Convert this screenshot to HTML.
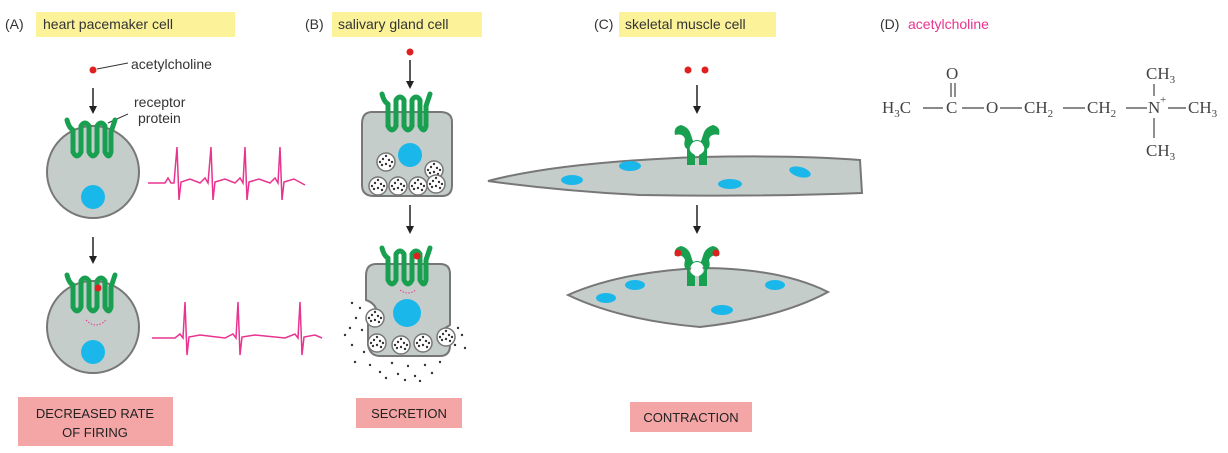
<!DOCTYPE html>
<html><head><meta charset="utf-8"><style>
body{margin:0;background:#fff;}
svg{display:block;font-family:"Liberation Sans",sans-serif;}
</style></head><body>
<svg width="1228" height="453" viewBox="0 0 1228 453" xmlns="http://www.w3.org/2000/svg">
<defs>
<marker id="ar" markerWidth="8" markerHeight="8" refX="4" refY="4" orient="auto" markerUnits="userSpaceOnUse"><path d="M0,0 L8,4 L0,8 z" fill="#222"/></marker>
<g id="rec"><path d="M-22,-30 Q-20,-22 -16,-20 L-16,2 Q-12,10 -8,2 L-8,-24 Q-4,-30 0,-24 L0,2 Q4,10 8,2 L8,-24 Q12,-30 16,-24 L16,2 Q20,10 22,2 L22,-18 Q24,-24 26,-30" fill="none" stroke="#18a050" stroke-width="5" stroke-linecap="round" stroke-linejoin="round"/></g>
<g id="ves"><circle r="9" fill="#fff" stroke="#777" stroke-width="1.5"/><circle cx="-3" cy="-3" r="1.2" fill="#333"/><circle cx="3" cy="-2" r="1.2" fill="#333"/><circle cx="0" cy="2" r="1.2" fill="#333"/><circle cx="-4" cy="3" r="1.2" fill="#333"/><circle cx="4" cy="4" r="1.2" fill="#333"/><circle cx="0" cy="-6" r="1.2" fill="#333"/><circle cx="-6" cy="0" r="1.2" fill="#333"/><circle cx="6" cy="0" r="1.2" fill="#333"/></g>
<g id="nic"><path d="M-16,-22 Q-24,-20 -22,-12 Q-14,-14 -12,-8 Q-14,0 -10,2 L-10,18 L-2,18 L-2,8 Q-10,4 -6,-2 Q-4,-6 0,-6 Q4,-6 6,-2 Q10,4 2,8 L2,18 L10,18 L10,2 Q14,0 12,-8 Q14,-14 22,-12 Q24,-20 16,-22 Q8,-20 6,-12 L4,-6 Q0,-8 -4,-6 L-6,-12 Q-8,-20 -16,-22z" fill="#18a050"/><circle cx="0" cy="2" r="6" fill="#fff"/></g>
</defs>

<!-- titles -->
<text x="5" y="29" font-size="14" fill="#333">(A)</text>
<rect x="36" y="12" width="199" height="25" fill="#fbf29a"/>
<text x="43" y="29" font-size="14" fill="#333">heart pacemaker cell</text>
<text x="305" y="29" font-size="14" fill="#333">(B)</text>
<rect x="332" y="12" width="150" height="25" fill="#fbf29a"/>
<text x="338" y="29" font-size="14" fill="#333">salivary gland cell</text>
<text x="594" y="29" font-size="14" fill="#333">(C)</text>
<rect x="619" y="12" width="157" height="25" fill="#fbf29a"/>
<text x="625" y="29" font-size="14" fill="#333">skeletal muscle cell</text>
<text x="880" y="29" font-size="14" fill="#333">(D)</text>
<text x="908" y="29" font-size="14" fill="#e8338f">acetylcholine</text>

<!-- A -->
<circle cx="93" cy="70" r="3.5" fill="#e02020"/>
<line x1="97" y1="69" x2="128" y2="63" stroke="#333" stroke-width="1"/>
<text x="131" y="69" font-size="14" fill="#333">acetylcholine</text>
<text x="134" y="107" font-size="14" fill="#333">receptor</text>
<text x="138" y="123" font-size="14" fill="#333">protein</text>
<line x1="108" y1="123" x2="128" y2="114" stroke="#333" stroke-width="1"/>
<line x1="93" y1="88" x2="93" y2="110" stroke="#222" stroke-width="1.5" marker-end="url(#ar)"/>
<circle cx="93" cy="172" r="46" fill="#c5cdcb" stroke="#777" stroke-width="2"/>
<circle cx="93" cy="197" r="12" fill="#1ab8ea"/>
<use href="#rec" x="89" y="150"/>
<polyline points="148,183 165,183 168,178 171,183 174,183 177,147 179,200 181,182 190,179 200,183 205,178 208,183 211,147 213,200 215,182 225,179 235,183 240,178 243,183 245,147 247,200 249,182 259,179 270,183 275,178 278,183 280,147 282,200 284,182 294,179 305,185" fill="none" stroke="#e8338f" stroke-width="1.5"/>
<line x1="93" y1="237" x2="93" y2="260" stroke="#222" stroke-width="1.5" marker-end="url(#ar)"/>
<circle cx="93" cy="327" r="46" fill="#c5cdcb" stroke="#777" stroke-width="2"/>
<circle cx="93" cy="352" r="12" fill="#1ab8ea"/>
<use href="#rec" x="89" y="305"/>
<circle cx="98" cy="288" r="3.5" fill="#e02020"/>
<path d="M86,320 Q96,330 106,320" fill="none" stroke="#e8338f" stroke-width="1" stroke-dasharray="1.5 1.5"/>
<polyline points="152,338 175,338 180,334 183,338 185,302 187,355 189,337 200,335 225,338 233,334 236,338 238,302 240,355 242,337 255,335 285,338 295,334 298,338 300,302 302,355 304,337 315,335 322,338" fill="none" stroke="#e8338f" stroke-width="1.5"/>
<rect x="18" y="397" width="155" height="49" fill="#f4a6a6"/>
<text x="95" y="418" font-size="13" fill="#222" text-anchor="middle">DECREASED RATE</text>
<text x="95" y="437" font-size="13" fill="#222" text-anchor="middle">OF FIRING</text>

<!-- B -->
<circle cx="410" cy="52" r="3.5" fill="#e02020"/>
<line x1="410" y1="60" x2="410" y2="85" stroke="#222" stroke-width="1.5" marker-end="url(#ar)"/>
<path d="M372,112 Q362,112 362,124 L362,185 Q362,196 374,196 L442,196 Q452,196 452,185 L452,122 Q452,112 440,112 Z" fill="#c5cdcb" stroke="#777" stroke-width="2"/>
<use href="#rec" x="404" y="124"/>
<circle cx="410" cy="155" r="12" fill="#1ab8ea"/>
<use href="#ves" x="386" y="162"/><use href="#ves" x="434" y="170"/><use href="#ves" x="378" y="186"/><use href="#ves" x="398" y="186"/><use href="#ves" x="418" y="186"/><use href="#ves" x="436" y="184"/>
<line x1="410" y1="205" x2="410" y2="230" stroke="#222" stroke-width="1.5" marker-end="url(#ar)"/>
<path d="M376,264 Q366,264 366,276 L366,300 Q380,305 376,320 L368,322 L368,345 Q370,356 380,356 L440,356 Q450,356 450,345 L450,340 L442,330 L450,325 L450,274 Q450,264 440,264 Z" fill="#c5cdcb" stroke="#777" stroke-width="2"/>
<use href="#rec" x="404" y="278"/>
<circle cx="417" cy="256" r="3.5" fill="#e02020"/>
<path d="M400,290 Q408,296 416,290" fill="none" stroke="#e8338f" stroke-width="1" stroke-dasharray="1.5 1.5"/>
<circle cx="407" cy="313" r="14" fill="#1ab8ea"/>
<use href="#ves" x="375" y="318"/><use href="#ves" x="377" y="343"/><use href="#ves" x="401" y="345"/><use href="#ves" x="423" y="343"/><use href="#ves" x="446" y="337"/>
<g fill="#333">
<circle cx="352" cy="303" r="1.2"/><circle cx="360" cy="308" r="1.2"/><circle cx="356" cy="318" r="1.2"/><circle cx="350" cy="328" r="1.2"/><circle cx="362" cy="330" r="1.2"/><circle cx="352" cy="345" r="1.2"/><circle cx="364" cy="352" r="1.2"/><circle cx="355" cy="362" r="1.2"/><circle cx="370" cy="365" r="1.2"/><circle cx="380" cy="372" r="1.2"/><circle cx="392" cy="363" r="1.2"/><circle cx="398" cy="374" r="1.2"/><circle cx="408" cy="366" r="1.2"/><circle cx="415" cy="376" r="1.2"/><circle cx="425" cy="365" r="1.2"/><circle cx="432" cy="373" r="1.2"/><circle cx="440" cy="362" r="1.2"/><circle cx="455" cy="345" r="1.2"/><circle cx="462" cy="335" r="1.2"/><circle cx="465" cy="348" r="1.2"/><circle cx="458" cy="328" r="1.2"/><circle cx="386" cy="378" r="1.2"/><circle cx="420" cy="381" r="1.2"/><circle cx="405" cy="380" r="1.2"/><circle cx="345" cy="335" r="1.2"/>
</g>
<rect x="356" y="398" width="106" height="30" fill="#f4a6a6"/>
<text x="409" y="418" font-size="13" fill="#222" text-anchor="middle">SECRETION</text>

<!-- C -->
<circle cx="688" cy="70" r="3.5" fill="#e02020"/><circle cx="705" cy="70" r="3.5" fill="#e02020"/>
<line x1="697" y1="85" x2="697" y2="110" stroke="#222" stroke-width="1.5" marker-end="url(#ar)"/>
<path d="M488,181 Q560,162 700,157 Q800,155 860,160 L862,193 Q760,197 640,195 Q560,191 488,181 Z" fill="#c5cdcb" stroke="#777" stroke-width="2"/>
<use href="#nic" x="697" y="147"/>
<ellipse cx="572" cy="180" rx="11" ry="5" fill="#1ab8ea"/><ellipse cx="630" cy="166" rx="11" ry="5" fill="#1ab8ea"/><ellipse cx="730" cy="184" rx="12" ry="5" fill="#1ab8ea"/><ellipse cx="800" cy="172" rx="11" ry="5" transform="rotate(15 800 172)" fill="#1ab8ea"/>
<line x1="697" y1="205" x2="697" y2="230" stroke="#222" stroke-width="1.5" marker-end="url(#ar)"/>
<path d="M568,295 Q620,272 700,268 Q780,268 828,292 Q780,318 700,327 Q620,320 568,295 Z" fill="#c5cdcb" stroke="#777" stroke-width="2"/>
<use href="#nic" x="697" y="268"/>
<circle cx="678" cy="253" r="3.5" fill="#e02020"/><circle cx="716" cy="253" r="3.5" fill="#e02020"/>
<ellipse cx="606" cy="298" rx="10" ry="5" fill="#1ab8ea"/><ellipse cx="635" cy="285" rx="10" ry="5" fill="#1ab8ea"/><ellipse cx="722" cy="310" rx="11" ry="5" fill="#1ab8ea"/><ellipse cx="775" cy="285" rx="10" ry="5" fill="#1ab8ea"/>
<rect x="630" y="402" width="122" height="30" fill="#f4a6a6"/>
<text x="691" y="422" font-size="13" fill="#222" text-anchor="middle">CONTRACTION</text>

<!-- D -->
<g font-family="Liberation Serif,serif" font-size="17" fill="#444" stroke="none">
<text x="882" y="113">H<tspan font-size="11" dy="4">3</tspan><tspan dy="-4">C</tspan></text>
<line x1="923" y1="108" x2="943" y2="108" stroke="#444" stroke-width="1.3"/>
<text x="946" y="113">C</text>
<text x="946" y="79">O</text>
<line x1="951" y1="83" x2="951" y2="97" stroke="#444" stroke-width="1.2"/><line x1="955" y1="83" x2="955" y2="97" stroke="#444" stroke-width="1.2"/>
<line x1="962" y1="108" x2="984" y2="108" stroke="#444" stroke-width="1.3"/>
<text x="986" y="113">O</text>
<line x1="1000" y1="108" x2="1022" y2="108" stroke="#444" stroke-width="1.3"/>
<text x="1024" y="113">CH<tspan font-size="11" dy="4">2</tspan></text>
<line x1="1063" y1="108" x2="1085" y2="108" stroke="#444" stroke-width="1.3"/>
<text x="1087" y="113">CH<tspan font-size="11" dy="4">2</tspan></text>
<line x1="1126" y1="108" x2="1147" y2="108" stroke="#444" stroke-width="1.3"/>
<text x="1148" y="113">N</text><text x="1160" y="103" font-size="11">+</text>
<line x1="1168" y1="108" x2="1186" y2="108" stroke="#444" stroke-width="1.3"/>
<text x="1188" y="113">CH<tspan font-size="11" dy="4">3</tspan></text>
<text x="1146" y="79">CH<tspan font-size="11" dy="4">3</tspan></text>
<line x1="1154" y1="84" x2="1154" y2="96" stroke="#444" stroke-width="1.2"/>
<line x1="1154" y1="118" x2="1154" y2="138" stroke="#444" stroke-width="1.2"/>
<text x="1146" y="156">CH<tspan font-size="11" dy="4">3</tspan></text>
</g>
</svg>
</body></html>
